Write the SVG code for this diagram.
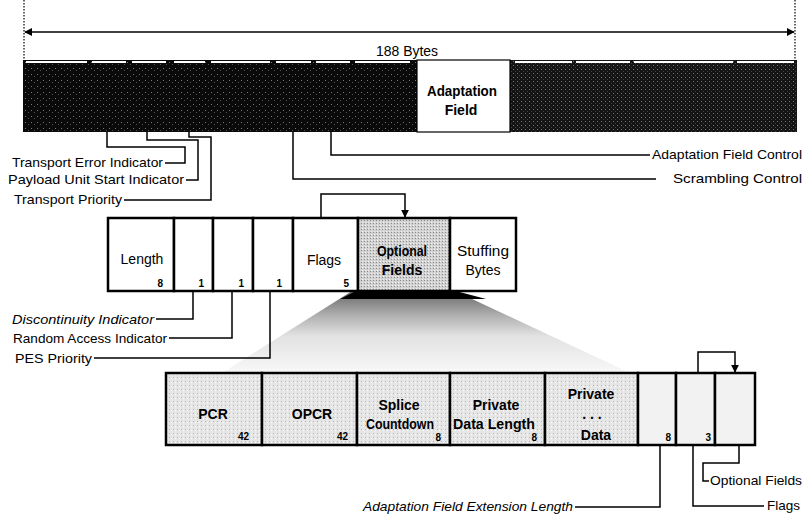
<svg xmlns="http://www.w3.org/2000/svg" width="806" height="518" viewBox="0 0 806 518">
<defs>
<style>
text{font-family:"Liberation Sans",Arial,sans-serif;fill:#000}
.lbl{font-size:13px}
.it{font-style:italic}
.box{font-size:14px}
.bb{font-size:14px;font-weight:bold}
.num{font-size:10px;font-weight:bold;text-anchor:end}
.c{text-anchor:middle}
.wire{fill:none;stroke:#000;stroke-width:1.5}
.frame{stroke:#000;stroke-width:2.5}
.hl{stroke:#fff;stroke-width:2}
</style>
<pattern id="darkStip" width="6" height="6" patternUnits="userSpaceOnUse">
<rect width="6" height="6" fill="#0a0a0a"/>
<rect x="1" y="2" width="1" height="1" fill="#777"/>
<rect x="4" y="4" width="1" height="1" fill="#555"/>
</pattern>
<pattern id="greyStip" width="4" height="4" patternUnits="userSpaceOnUse">
<rect width="4" height="4" fill="#141414"/>
<rect x="1" y="1" width="1" height="1" fill="#777"/>
<rect x="3" y="3" width="1" height="1" fill="#444"/>
</pattern>
<pattern id="lightStip" width="4" height="4" patternUnits="userSpaceOnUse">
<rect width="4" height="4" fill="#e6e6e6"/>
<rect x="1" y="1" width="1" height="1" fill="#b4b4b4"/>
<rect x="3" y="2" width="1" height="1" fill="#fff"/>
</pattern>
<pattern id="midStip" width="3" height="3" patternUnits="userSpaceOnUse">
<rect width="3" height="3" fill="#d2d2d2"/>
<rect x="1" y="1" width="1" height="1" fill="#8a8a8a"/>
<rect x="2" y="0" width="1" height="1" fill="#f0f0f0"/>
</pattern>
<linearGradient id="fan" x1="0" y1="0" x2="0" y2="1">
<stop offset="0" stop-color="#666"/>
<stop offset="0.3" stop-color="#b0b0b0"/>
<stop offset="0.55" stop-color="#e2e2e2"/>
<stop offset="1" stop-color="#f8f8f8"/>
</linearGradient>
<marker id="ah" viewBox="0 0 10 10" refX="9" refY="5" markerWidth="8" markerHeight="8" markerUnits="userSpaceOnUse" orient="auto-start-reverse">
<path d="M0,0 L10,5 L0,10 z" fill="#000"/>
</marker>
</defs>
<rect width="806" height="518" fill="#fff"/>

<g id="fan-shape">
<polygon points="352,291 455,291 630,373 222,373" fill="url(#fan)"/>
<polygon points="340,299 358,290 452,290 486,299" fill="#000"/>
</g>

<g id="ts-packet">
<rect x="23" y="60" width="394" height="72" fill="url(#darkStip)"/>
<rect x="510" y="60" width="287" height="72" fill="url(#greyStip)"/>
<line class="hl" x1="26" y1="62" x2="87" y2="62"/>
<line class="hl" x1="92" y1="62" x2="126" y2="62"/>
<line class="hl" x1="132" y1="62" x2="166" y2="62"/>
<line class="hl" x1="174" y1="62" x2="205" y2="62"/>
<line class="hl" x1="211" y1="62" x2="270" y2="62"/>
<line class="hl" x1="276" y1="62" x2="311" y2="62"/>
<line class="hl" x1="316" y1="62" x2="350" y2="62"/>
<line class="hl" x1="355" y1="62" x2="410" y2="62"/>
<line class="hl" x1="515" y1="62" x2="572" y2="62"/>
<line class="hl" x1="576" y1="62" x2="630" y2="62"/>
<line class="hl" x1="634" y1="62" x2="733" y2="62"/>
<line class="hl" x1="737" y1="62" x2="794" y2="62"/>
<text class="c" x="407" y="56" font-size="14" textLength="62" lengthAdjust="spacingAndGlyphs">188 Bytes</text>
</g>

<g id="adaptation-field">
<rect x="417" y="60" width="93" height="72" fill="#fff" stroke="#000" stroke-width="1.2"/>
<text class="bb c" x="462" y="96" textLength="70" lengthAdjust="spacingAndGlyphs">Adaptation</text>
<text class="bb c" x="461" y="115">Field</text>
</g>

<g id="af-length">
<rect class="frame" x="108" y="218" width="66" height="73" fill="#fff"/>
<text class="box c" x="142" y="264">Length</text>
<text class="num" x="163" y="287">8</text>
</g>
<g id="af-disc">
<rect class="frame" x="174" y="218" width="39" height="73" fill="#fff"/>
<text class="num" x="204" y="287">1</text>
</g>
<g id="af-rai">
<rect class="frame" x="213" y="218" width="40" height="73" fill="#fff"/>
<text class="num" x="244" y="287">1</text>
</g>
<g id="af-pes">
<rect class="frame" x="253" y="218" width="40" height="73" fill="#fff"/>
<text class="num" x="282" y="287">1</text>
</g>
<g id="af-flags">
<rect class="frame" x="293" y="218" width="65" height="73" fill="#fff"/>
<text class="box c" x="324" y="265">Flags</text>
<text class="num" x="349" y="287">5</text>
</g>
<g id="af-optional">
<rect class="frame" x="358" y="218" width="92" height="73" fill="url(#midStip)"/>
<text class="bb c" x="402" y="256" textLength="50" lengthAdjust="spacingAndGlyphs">Optional</text>
<text class="bb c" x="402" y="275">Fields</text>
</g>
<g id="af-stuffing">
<rect class="frame" x="450" y="218" width="66" height="73" fill="#fff"/>
<text class="box c" x="483" y="256" textLength="52" lengthAdjust="spacingAndGlyphs">Stuffing</text>
<text class="box c" x="483" y="275">Bytes</text>
</g>

<g id="opt-pcr">
<rect class="frame" x="166" y="373" width="96" height="72" fill="url(#lightStip)"/>
<text class="bb c" x="213" y="419">PCR</text>
<text class="num" x="249" y="440">42</text>
</g>
<g id="opt-opcr">
<rect class="frame" x="262" y="373" width="95" height="72" fill="url(#lightStip)"/>
<text class="bb c" x="312" y="419">OPCR</text>
<text class="num" x="348" y="440">42</text>
</g>
<g id="opt-splice">
<rect class="frame" x="357" y="373" width="93" height="72" fill="url(#lightStip)"/>
<text class="bb c" x="399" y="410">Splice</text>
<text class="bb c" x="400" y="429" textLength="68" lengthAdjust="spacingAndGlyphs">Countdown</text>
<text class="num" x="441" y="441">8</text>
</g>
<g id="opt-pdl">
<rect class="frame" x="450" y="373" width="95" height="72" fill="url(#lightStip)"/>
<text class="bb c" x="496" y="410">Private</text>
<text class="bb c" x="494" y="429" textLength="82" lengthAdjust="spacingAndGlyphs">Data Length</text>
<text class="num" x="537" y="441">8</text>
</g>
<g id="opt-pdata">
<rect class="frame" x="545" y="373" width="93" height="72" fill="url(#lightStip)"/>
<text class="bb c" x="591" y="399">Private</text>
<text class="bb c" x="592" y="419">. . .</text>
<text class="bb c" x="596" y="440">Data</text>
</g>
<g id="opt-ext-len">
<rect class="frame" x="638" y="373" width="38" height="72" fill="#f2f2f2"/>
<text class="num" x="671" y="441">8</text>
</g>
<g id="opt-flags">
<rect class="frame" x="676" y="373" width="39" height="72" fill="#f2f2f2"/>
<text class="num" x="711" y="441">3</text>
</g>
<g id="opt-fields">
<rect class="frame" x="715" y="373" width="40" height="72" fill="#f2f2f2"/>
</g>

<g id="connectors">
<line x1="24" y1="0" x2="24" y2="60" stroke="#000" stroke-width="1.2" stroke-dasharray="1.5 1.5"/>
<line x1="795" y1="0" x2="795" y2="60" stroke="#000" stroke-width="1.2" stroke-dasharray="1.5 1.5"/>
<line class="wire" x1="25" y1="32" x2="794" y2="32" marker-start="url(#ah)" marker-end="url(#ah)"/>
<polyline class="wire" points="107,132 107,147 185,147 185,163 165,163"/>
<polyline class="wire" points="147,132 147,140 198,140 198,180 186,180"/>
<polyline class="wire" points="189,132 189,137 211,137 211,200 124,200"/>
<polyline class="wire" points="331,132 331,155 650,155"/>
<polyline class="wire" points="293,132 293,179 656,179"/>
<polyline class="wire" points="321,218 321,194 405,194 405,217" marker-end="url(#ah)"/>
<polyline class="wire" points="193,291 193,319 156,319"/>
<polyline class="wire" points="232,291 232,338 169,338"/>
<polyline class="wire" points="270,291 270,358 94,358"/>
<polyline class="wire" points="698,373 698,352 735,352 735,372" marker-end="url(#ah)"/>
<polyline class="wire" points="660,445 660,507 575,507"/>
<polyline class="wire" points="693,445 693,506 764,506"/>
<polyline class="wire" points="739,445 739,463 703,463 703,481 709,481"/>
</g>

<g id="labels">
<text class="lbl" x="12" y="167" textLength="151" lengthAdjust="spacingAndGlyphs">Transport Error Indicator</text>
<text class="lbl" x="8" y="184" textLength="176" lengthAdjust="spacingAndGlyphs">Payload Unit Start Indicator</text>
<text class="lbl" x="14" y="204" textLength="108" lengthAdjust="spacingAndGlyphs">Transport Priority</text>
<text class="lbl" x="652" y="159" textLength="150" lengthAdjust="spacingAndGlyphs">Adaptation Field Control</text>
<text class="lbl" x="673" y="183" textLength="129" lengthAdjust="spacingAndGlyphs">Scrambling Control</text>
<text class="lbl it" x="12" y="324" textLength="142" lengthAdjust="spacingAndGlyphs">Discontinuity Indicator</text>
<text class="lbl" x="13" y="343" textLength="154" lengthAdjust="spacingAndGlyphs">Random Access Indicator</text>
<text class="lbl" x="15" y="363" textLength="77" lengthAdjust="spacingAndGlyphs">PES Priority</text>
<text class="lbl it" x="363" y="511" textLength="210" lengthAdjust="spacingAndGlyphs">Adaptation Field Extension Length</text>
<text class="lbl" x="710" y="485" textLength="92" lengthAdjust="spacingAndGlyphs">Optional Fields</text>
<text class="lbl" x="767" y="510" textLength="33" lengthAdjust="spacingAndGlyphs">Flags</text>
</g>
</svg>
